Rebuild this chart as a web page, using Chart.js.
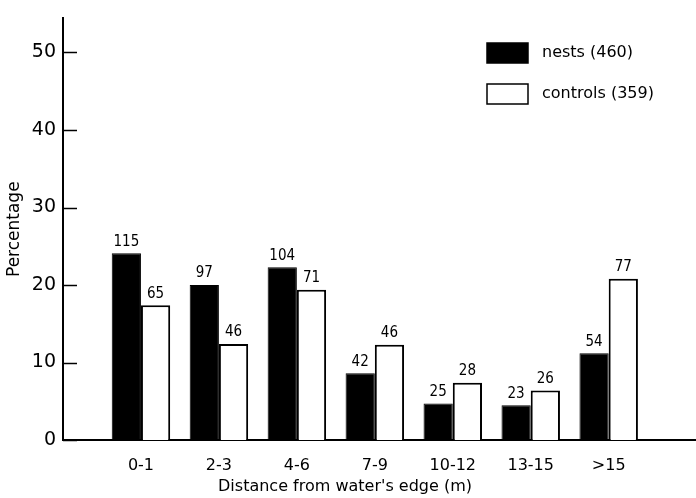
<!DOCTYPE html>
<html>
<head>
<meta charset="utf-8">
<script src="https://cdn.jsdelivr.net/npm/chart.js@4/dist/chart.umd.min.js"></script>
<style>
  html, body { margin: 0; padding: 0; background: #ffffff; }
  #wrap { width: 696px; height: 498px; position: relative; }
</style>
</head>
<body>
<div id="wrap"><canvas id="chart" width="696" height="498"></canvas></div>
<script>
// ====== Data ======
const categories = ['0-1', '2-3', '4-6', '7-9', '10-12', '13-15', '>15'];
const nestsPct = [24.1, 20.0, 22.3, 8.6, 4.7, 4.5, 11.2];
const controlsPct = [17.4, 12.4, 19.4, 12.3, 7.4, 6.4, 20.8];
const nestsCount = [115, 97, 104, 42, 25, 23, 54];
const controlsCount = [65, 46, 71, 46, 28, 26, 77];
const yTicks = [0, 10, 20, 30, 40, 50];

const FONT = '"DejaVu Sans", sans-serif';
const NARROW = '"DejaVu Sans Condensed", "DejaVu Sans", sans-serif';

// ====== Plugins ======
const decorations = {
    id: 'decorations',
    afterDatasetsDraw(chart) {
        const ctx = chart.ctx;
        const y = chart.scales.y;
        const area = chart.chartArea;

        // inward ticks on the y axis
        ctx.save();
        ctx.strokeStyle = '#000';
        ctx.lineWidth = 1.5;
        yTicks.forEach(v => {
            const py = Math.round(y.getPixelForValue(v)) + 0.5;
            ctx.beginPath();
            ctx.moveTo(area.left, py);
            ctx.lineTo(area.left + 14, py);
            ctx.stroke();
        });

        // counts above bars
        ctx.fillStyle = '#000';
        ctx.font = '15px ' + NARROW;
        ctx.textAlign = 'center';
        ctx.textBaseline = 'bottom';
        const counts = [nestsCount, controlsCount];
        chart.data.datasets.forEach((ds, di) => {
            chart.getDatasetMeta(di).data.forEach((bar, i) => {
                ctx.fillText(String(counts[di][i]), bar.x, bar.y - 4);
            });
        });

        // legend
        ctx.font = '16px ' + FONT;
        ctx.textAlign = 'left';
        ctx.textBaseline = 'middle';
        chart.data.datasets.forEach((ds, di) => {
            const top = 43 + di * 41;
            ctx.fillStyle = ds.backgroundColor;
            ctx.fillRect(487, top, 41, 20);
            ctx.strokeStyle = '#000';
            ctx.lineWidth = 1.5;
            ctx.strokeRect(487, top, 41, 20);
            ctx.fillStyle = '#000';
            ctx.fillText(ds.label, 542, top + 10);
        });

        // x axis title
        ctx.font = '16px ' + FONT;
        ctx.textAlign = 'center';
        ctx.textBaseline = 'middle';
        ctx.fillText("Distance from water's edge (m)", 345, 487);
        ctx.restore();
    }
};

// ====== Chart ======
const ctx = document.getElementById('chart');

new Chart(ctx, {
    type: 'bar',
    data: {
        datasets: [{
            label: 'nests (460)',
            data: nestsPct.map((v, i) => ({ x: i + 1, y: v })),
            backgroundColor: '#000000',
            borderColor: '#000000',
            borderWidth: 1,
            categoryPercentage: 0.75,
            barPercentage: 1.0
        }, {
            label: 'controls (359)',
            data: controlsPct.map((v, i) => ({ x: i + 1, y: v })),
            backgroundColor: '#ffffff',
            borderColor: '#000000',
            borderWidth: 2,
            categoryPercentage: 0.75,
            barPercentage: 1.0
        }]
    },
    options: {
        responsive: false,
        animation: false,
        layout: { padding: { top: 5, right: 0, left: 0, bottom: 0 } },
        plugins: {
            legend: { display: false },
            title: { display: false },
            tooltip: { enabled: false }
        },
        scales: {
            x: {
                type: 'linear',
                offset: false,
                min: 0,
                max: 8.12,
                grid: { display: false, drawTicks: false, offset: false },
                border: { display: true, color: '#000', width: 2 },
                afterBuildTicks: (scale) => {
                    scale.ticks = categories.map((c, i) => ({ value: i + 1 }));
                },
                afterFit: (scale) => { scale.height = 58; },
                ticks: {
                    padding: 16,
                    color: '#000',
                    font: { family: FONT, size: 16 },
                    maxRotation: 0,
                    callback: (value) => categories[value - 1] || ''
                }
            },
            y: {
                min: 0,
                max: 54.4,
                grid: { display: false, drawTicks: false },
                border: { display: true, color: '#000', width: 2 },
                afterBuildTicks: (scale) => {
                    scale.ticks = yTicks.map(v => ({ value: v }));
                },
                afterFit: (scale) => { scale.width = 63; },
                title: {
                    display: true,
                    text: 'Percentage',
                    color: '#000',
                    font: { family: FONT, size: 17 },
                    padding: { top: 4, bottom: 0 }
                },
                ticks: {
                    padding: 7,
                    color: '#000',
                    font: { family: FONT, size: 19 }
                }
            }
        }
    },
    plugins: [decorations]
});
</script>
</body>
</html>
